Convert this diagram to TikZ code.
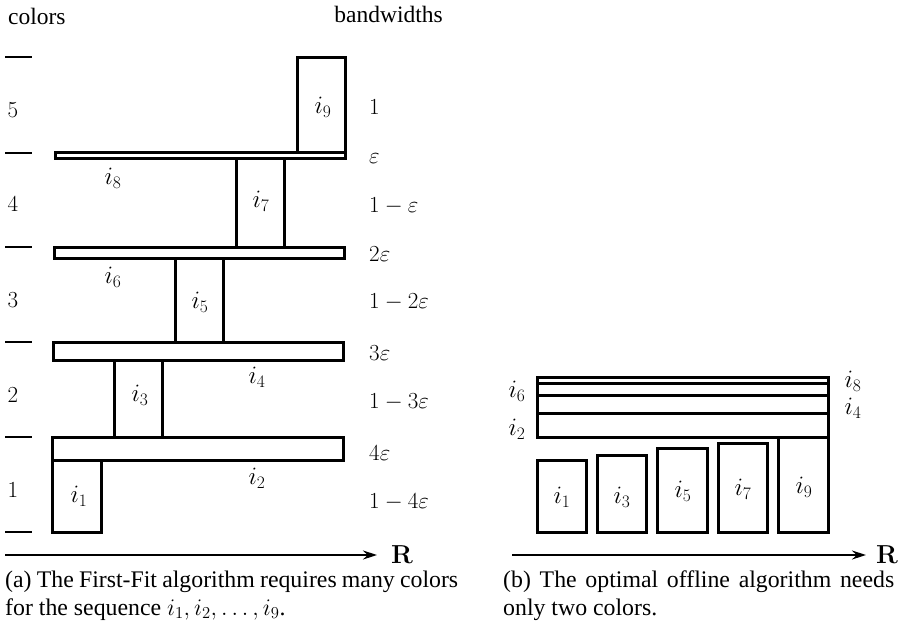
\RequirePackage{fix-cm}
\documentclass[tikz,border=0pt]{standalone}
\usepackage[no-math]{fontspec}
\setmainfont{Liberation Serif}
\usetikzlibrary{arrows.meta}
\begin{document}
\begin{tikzpicture}[x=1pt,y=-1pt,
  ivl/.style={draw, line width=3pt},
  txt/.style={font=\fontsize{23.5}{28}\selectfont, inner sep=0pt},
  lbl/.style={font=\fontsize{23}{27}\selectfont, inner sep=0pt},
  ilbl/.style={font=\fontsize{25}{29}\selectfont, inner sep=0pt},
  bwl/.style={lbl, anchor=base west},
  tickline/.style={line width=1.8pt},
  axis/.style={line width=1.4pt, -{Stealth[length=14pt,width=9pt]}},
  rlbl/.style={font=\fontsize{26}{30}\selectfont, inner sep=0pt},
  captext/.style={font=\fontsize{23.8}{27.5}\selectfont, inner sep=0pt, align=justify, anchor=north west}]
\useasboundingbox (0,0) rectangle (902,621);

% headings
\node[txt, anchor=base west] (colors) at (8,24) {colors};
\node[txt, anchor=base east] (bandw) at (443,22) {bandwidths};

% colour ticks
\foreach \y [count=\k] in {57,153,247,342,437,532}
  \draw[tickline] (5,\y) coordinate (t\k a) -- (32,\y) coordinate (t\k b);

% colour numbers
\node[lbl] (c5) at (13,110) {$5$};
\node[lbl] (c4) at (13,204) {$4$};
\node[lbl] (c3) at (13,300) {$3$};
\node[lbl] (c2) at (13,395) {$2$};
\node[lbl] (c1) at (13,490) {$1$};

% First-Fit intervals
\draw[ivl] (297,57) rectangle (345,152);
\draw[ivl] (55,152) rectangle (345,158);
\draw[ivl] (236,158) rectangle (284,247);
\draw[ivl] (54,247) rectangle (344,258);
\draw[ivl] (175,258) rectangle (223,342);
\draw[ivl] (53,342) rectangle (343,360);
\draw[ivl] (114,360) rectangle (162,437);
\draw[ivl] (52,437) rectangle (343,460);
\draw[ivl] (52,460) rectangle (101,532);

% interval labels (a)
\node[ilbl] (La9) at (323,107) {$i_9$};
\node[ilbl] (La8) at (113,178) {$i_8$};
\node[ilbl] (La7) at (261,201) {$i_7$};
\node[ilbl] (La6) at (113,277) {$i_6$};
\node[ilbl] (La5) at (200,302) {$i_5$};
\node[ilbl] (La4) at (257,377) {$i_4$};
\node[ilbl] (La3) at (140,395) {$i_3$};
\node[ilbl] (La2) at (257,478) {$i_2$};
\node[ilbl] (La1) at (79,496) {$i_1$};

% bandwidths
\node[bwl] (b9) at (369,114) {$1$};
\node[bwl] (b8) at (369,163) {$\varepsilon$};
\node[bwl] (b7) at (369,212) {$1-\varepsilon$};
\node[bwl] (b6) at (369,261) {$2\varepsilon$};
\node[bwl] (b5) at (369,308) {$1-2\varepsilon$};
\node[bwl] (b4) at (369,360) {$3\varepsilon$};
\node[bwl] (b3) at (369,408) {$1-3\varepsilon$};
\node[bwl] (b2) at (369,460) {$4\varepsilon$};
\node[bwl] (b1) at (369,508) {$1-4\varepsilon$};

% axis (a)
\node[rlbl, anchor=base] (Ra) at (402,563) {$\mathbf{R}$};
\coordinate (a0) at (5,555);
\coordinate (a1) at (377,555);
\draw[axis] (a0) -- (a1);

% optimal intervals
\draw[ivl] (537,413) rectangle (828,437);
\draw[ivl] (537,395) rectangle (828,413);
\draw[ivl] (537,383) rectangle (828,395);
\draw[ivl] (537,377) rectangle (828,383);
\draw[ivl] (537,460) rectangle (586,532);
\draw[ivl] (597,455) rectangle (646,532);
\draw[ivl] (657,448) rectangle (707,532);
\draw[ivl] (718,443) rectangle (767,532);
\draw[ivl] (778,437) rectangle (828,532);

% interval labels (b)
\node[ilbl] (Lb6) at (517,391) {$i_6$};
\node[ilbl] (Lb2) at (517,429) {$i_2$};
\node[ilbl] (Lb8) at (853,381) {$i_8$};
\node[ilbl] (Lb4) at (853,408) {$i_4$};
\node[ilbl] (Lb1) at (562,497) {$i_1$};
\node[ilbl] (Lb3) at (622,497) {$i_3$};
\node[ilbl] (Lb5) at (683,491) {$i_5$};
\node[ilbl] (Lb7) at (743,489) {$i_7$};
\node[ilbl] (Lb9) at (804,487) {$i_9$};

% axis (b)
\node[rlbl, anchor=base] (Rb) at (887,563) {$\mathbf{R}$};
\coordinate (b0) at (512,555);
\coordinate (b1e) at (866,555);
\draw[axis] (b0) -- (b1e);

% captions
\node[captext, text width=453pt] (capa) at (5,571) {(a) The First-Fit algorithm requires many colors\linebreak for the sequence $i_1, i_2, \ldots, i_9$.};
\node[captext, text width=391pt] (capb) at (503,571) {(b) The optimal offline algorithm needs\linebreak only two colors.};
\end{tikzpicture}
\end{document}
